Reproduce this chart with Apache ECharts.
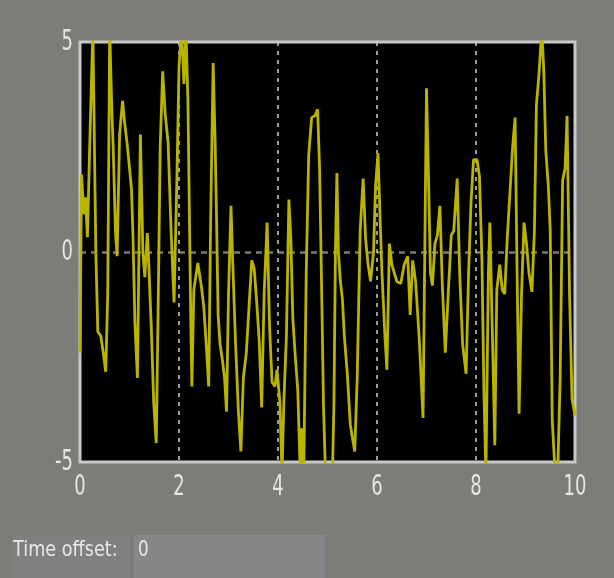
<!DOCTYPE html>
<html>
<head>
<meta charset="utf-8">
<script src="https://cdn.jsdelivr.net/npm/echarts@6/dist/echarts.min.js"></script>
<style>
html,body{margin:0;padding:0;background:#7b7d79;}
#c{width:614px;height:578px;}
</style>
</head>
<body>
<div id="c"></div>
<script>
var times = [0.00,0.03,0.08,0.11,0.15,0.20,0.26,0.32,0.36,0.42,0.47,0.52,0.56,0.60,0.64,0.67,0.72,0.75,0.80,0.86,0.90,0.95,1.00,1.04,1.07,1.11,1.16,1.22,1.27,1.31,1.36,1.39,1.44,1.49,1.54,1.58,1.62,1.67,1.72,1.78,1.84,1.90,1.96,2.00,2.05,2.10,2.14,2.18,2.21,2.24,2.26,2.30,2.38,2.45,2.50,2.55,2.60,2.64,2.69,2.73,2.76,2.79,2.83,2.88,2.92,2.96,3.00,3.05,3.09,3.14,3.20,3.25,3.30,3.36,3.42,3.47,3.52,3.57,3.62,3.67,3.72,3.78,3.83,3.88,3.94,3.98,4.04,4.08,4.12,4.17,4.22,4.26,4.30,4.35,4.40,4.45,4.48,4.52,4.57,4.62,4.68,4.75,4.80,4.84,4.88,4.92,4.96,5.00,5.05,5.10,5.13,5.16,5.19,5.22,5.26,5.30,5.34,5.40,5.46,5.50,5.55,5.60,5.66,5.72,5.77,5.82,5.87,5.93,5.97,6.02,6.06,6.10,6.16,6.20,6.25,6.30,6.35,6.40,6.48,6.55,6.62,6.67,6.72,6.78,6.85,6.93,7.00,7.04,7.08,7.12,7.17,7.22,7.27,7.32,7.38,7.43,7.50,7.55,7.62,7.67,7.73,7.80,7.85,7.90,7.95,8.02,8.07,8.12,8.16,8.20,8.25,8.28,8.33,8.38,8.42,8.48,8.53,8.58,8.63,8.68,8.74,8.79,8.83,8.87,8.92,8.97,9.02,9.07,9.13,9.18,9.22,9.27,9.33,9.37,9.41,9.46,9.50,9.54,9.60,9.65,9.70,9.75,9.80,9.84,9.89,9.94,10.00];
var values = [-2.4,1.85,0.9,1.3,0.35,2.7,5.3,0.0,-1.9,-2.0,-2.4,-2.85,-1.0,5.3,3.5,2.5,0.4,-0.1,2.8,3.6,3.1,2.6,2.0,1.5,0.4,-1.7,-3.0,2.8,0.0,-0.6,0.45,-0.3,-1.8,-3.6,-4.55,-1.2,2.5,4.3,3.3,2.6,0.5,-1.2,1.9,4.4,5.3,4.0,5.3,3.6,0.9,-1.8,-3.2,-0.9,-0.26,-0.8,-1.3,-2.2,-3.2,0.8,4.5,2.6,0.7,-1.5,-2.2,-2.6,-3.0,-3.8,-1.0,1.1,-0.4,-2.1,-3.8,-4.75,-3.0,-2.4,-1.2,-0.2,-0.4,-1.2,-2.1,-3.7,-1.0,0.7,-1.8,-3.1,-3.2,-2.8,-3.6,-5.3,-3.5,-2.0,1.25,0.3,-1.6,-2.5,-3.3,-5.3,-4.2,-5.3,-0.5,2.3,3.2,3.25,3.4,2.0,-0.8,-3.7,-5.3,-5.3,-5.3,-5.3,-3.6,0.0,1.88,0.0,-0.7,-1.1,-2.0,-2.9,-4.1,-4.4,-4.75,-3.0,0.5,1.75,0.3,-0.3,-0.7,0.0,1.57,2.35,0.9,-0.5,-2.0,-2.8,0.2,-0.3,-0.5,-0.7,-0.75,-0.3,-0.1,-1.5,-0.2,-0.7,-2.0,-3.95,3.9,1.8,-0.5,-0.8,0.2,0.4,1.1,-0.8,-2.4,-1.2,0.4,0.5,1.75,-0.5,-2.2,-2.9,-0.5,1.2,2.2,2.2,1.8,-0.2,-3.3,-5.3,-0.5,0.7,-1.9,-4.6,-0.9,-0.3,-0.9,-1.0,0.3,1.3,2.5,3.2,-0.5,-3.85,-1.0,0.7,0.2,-0.5,-0.95,0.5,3.5,4.2,5.3,4.3,2.4,1.6,0.5,-4.0,-5.3,-5.3,-3.0,1.7,2.0,3.24,-1.0,-3.5,-3.9];
var xTicks = [0,2,4,6,8,10];
var yTicks = [-5,0,5];
var offsetLabel = 'Time offset:';
var offsetValue = '0';

var pts = times.map(function(t,i){return [t, values[i]];});
var font = '"DejaVu Sans",sans-serif';
var chart = echarts.init(document.getElementById('c'), null, {renderer:'canvas'});
chart.setOption({
  backgroundColor:'#7b7d79',
  animation:false,
  grid:{left:80,right:39,top:42,bottom:116,show:true,backgroundColor:'#000000',borderColor:'#c9c9c9',borderWidth:3},
  xAxis:{type:'value',min:xTicks[0],max:xTicks[xTicks.length-1],interval:2,
    axisLine:{show:false},axisTick:{show:false},axisLabel:{show:false},
    splitLine:{show:true,showMinLine:false,showMaxLine:false,lineStyle:{color:'#cfcfcf',type:[4,5],width:1.5}}},
  yAxis:{type:'value',min:yTicks[0],max:yTicks[yTicks.length-1],interval:5,
    axisLine:{show:false},axisTick:{show:false},axisLabel:{show:false},
    splitLine:{show:true,showMinLine:false,showMaxLine:false,lineStyle:{color:'#7a7a7a',type:[6,5],width:2.5}}},
  series:[{type:'line',data:pts,showSymbol:false,clip:true,
    lineStyle:{color:'#b8b400',width:2.8},z:3}]
});

var g = [
  {type:'rect',shape:{x:12,y:535,width:118,height:43},style:{fill:'#808080'},silent:true},
  {type:'rect',shape:{x:134,y:535,width:191,height:43},style:{fill:'#878789'},silent:true},
  {type:'text',x:13,y:551,scaleX:0.84,style:{text:offsetLabel,fill:'#e8e8e8',font:'21px '+font,verticalAlign:'middle'}},
  {type:'text',x:138,y:551,scaleX:0.8,style:{text:offsetValue,fill:'#e8e8e8',font:'21px '+font,verticalAlign:'middle'}}
];
xTicks.forEach(function(v){
  var p = chart.convertToPixel({xAxisIndex:0}, v);
  g.push({type:'text',x:p,y:487,scaleX:0.62,style:{text:String(v),fill:'#e6e6e6',font:'29px '+font,align:'center',verticalAlign:'middle'}});
});
yTicks.forEach(function(v){
  var p = chart.convertToPixel({yAxisIndex:0}, v);
  g.push({type:'text',x:73,y:p,scaleX:0.62,style:{text:String(v),fill:'#e6e6e6',font:'29px '+font,align:'right',verticalAlign:'middle'}});
});
chart.setOption({graphic:g});
</script>
</body>
</html>
